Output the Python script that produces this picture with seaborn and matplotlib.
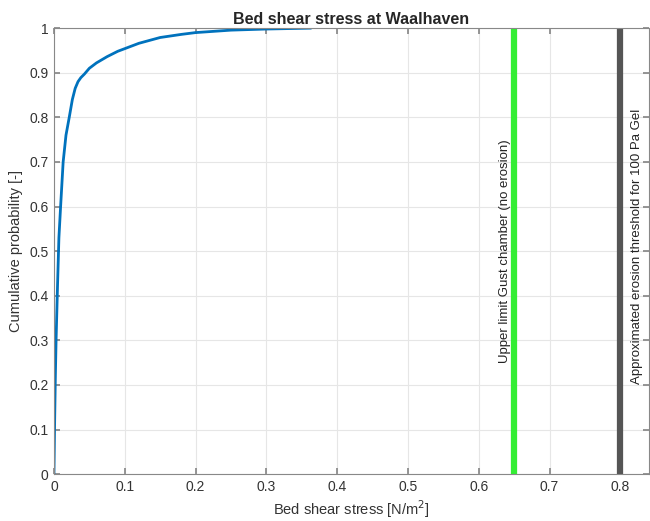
import numpy as np
import pandas as pd
import matplotlib
matplotlib.use('Agg')
import matplotlib.pyplot as plt
import seaborn as sns
from matplotlib.ticker import FuncFormatter

# Dados (curva de probabilidade acumulada)
stress = [0, 0.0005, 0.001, 0.002, 0.003, 0.005, 0.007, 0.0094, 0.013, 0.017, 0.0216,
          0.026, 0.030, 0.034, 0.038, 0.043, 0.05, 0.06, 0.075, 0.09, 0.1, 0.12, 0.15,
          0.18, 0.2, 0.25, 0.3, 0.363]
prob = [0, 0.06, 0.12, 0.22, 0.30, 0.42, 0.53, 0.60, 0.70, 0.76, 0.80,
        0.84, 0.865, 0.88, 0.889, 0.897, 0.91, 0.922, 0.936, 0.948, 0.954, 0.966, 0.979,
        0.986, 0.990, 0.9955, 0.998, 1.0]

limites = [0.65, 0.8]
limite_textos = ['Upper limit Gust chamber (no erosion)',
                 'Approximated erosion threshold for 100 Pa Gel']

sns.set_theme(style="whitegrid")
plt.rcParams['font.family'] = ['Liberation Sans', 'DejaVu Sans']

df = pd.DataFrame({'stress': stress, 'prob': prob})

fig = plt.figure(figsize=(6.5, 5.21), dpi=100)
ax = fig.add_axes([0.083, 0.09, 0.915, 0.856])

sns.lineplot(data=df, x='stress', y='prob', color='#0072BD', linewidth=2, ax=ax)
ax.axvline(limites[0], color='#33ee33', linewidth=4.5)
ax.axvline(limites[1], color='#555555', linewidth=4.5)

ax.text(0.637, 0.50, limite_textos[0], rotation=90, ha='center', va='center', fontsize=9.5, color='#222222')
ax.text(0.8235, 0.51, limite_textos[1], rotation=90, ha='center', va='center', fontsize=9.5, color='#222222')

ax.set_xlim(0, 0.84)
ax.set_ylim(0, 1)
ax.set_xticks(np.arange(0, 0.81, 0.1))
ax.set_yticks(np.arange(0, 1.01, 0.1))
fmt = FuncFormatter(lambda v, p: f'{v:.1f}'.rstrip('0').rstrip('.') if v != 0 else '0')
ax.xaxis.set_major_formatter(fmt)
ax.yaxis.set_major_formatter(fmt)

ax.set_facecolor('white')
ax.grid(True, color='#e6e6e6', linewidth=0.8)
for s in ax.spines.values():
    s.set_color('#888888')
    s.set_linewidth(0.8)
ax.tick_params(axis='both', direction='in', length=4, color='#888888', labelsize=10,
               labelcolor='#333333', left=True, bottom=True, top=True, right=True,
               labeltop=False, labelright=False, pad=4)

ax.set_title('Bed shear stress at Waalhaven', fontsize=11.5, fontweight='bold', pad=3)
ax.set_xlabel('Bed shear stress [N/m$^2$]', fontsize=10.5, color='#333333', labelpad=3)
ax.set_ylabel('Cumulative probability [-]', fontsize=10.5, color='#333333', labelpad=4)

plt.savefig('out.png', dpi=100)
